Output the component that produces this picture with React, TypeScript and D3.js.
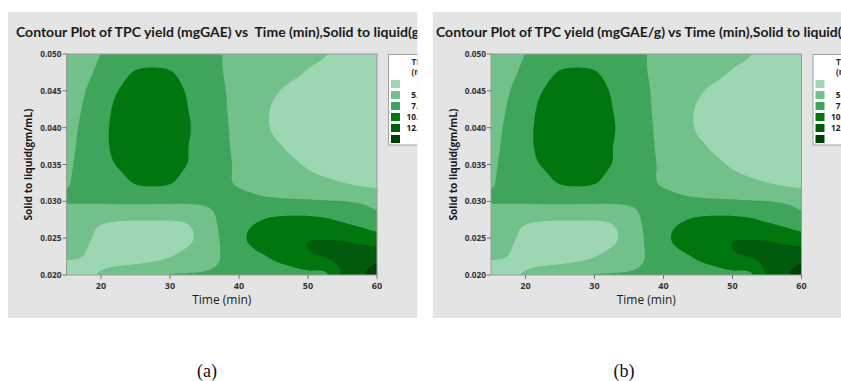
import React, { useMemo } from 'react';
import * as d3 from 'd3';

// ---------- data ----------
const timeValues = [15, 17.5, 20, 22.5, 25, 27.5, 30, 32.5, 35, 37.5, 40, 42.5, 45, 47.5, 50, 52.5, 55, 57.5, 60];
const ratioValues = [0.05, 0.0475, 0.045, 0.0425, 0.04, 0.0375, 0.035, 0.0325, 0.03, 0.0275, 0.025, 0.0225, 0.02];

// TPC yield estimated on the grid (rows: ratio top->bottom, columns: time)
const yieldAt0500 = [6.3, 6.9, 7.55, 8.3, 8.8, 9.0, 8.95, 8.6, 8.1, 7.5, 6.9, 6.5, 6.1, 5.8, 5.4, 5.03, 4.6, 4.3, 4.0];
const yieldAt0475 = [6.3, 7.0, 8.05, 9.2, 10.2, 10.4, 10.15, 9.2, 8.45, 7.54, 6.99, 6.46, 5.92, 5.39, 4.85, 4.5, 4.2, 4.0, 3.8];
const yieldAt0450 = [6.3, 7.4, 8.8, 10.05, 11.0, 11.2, 10.9, 9.8, 8.8, 7.7, 6.85, 6.04, 5.23, 4.6, 4.2, 3.9, 3.7, 3.55, 3.45];
const yieldAt0425 = [6.35, 7.75, 9.2, 10.5, 11.2, 11.5, 11.1, 10.05, 8.93, 7.81, 6.77, 5.77, 4.8, 4.3, 3.9, 3.7, 3.5, 3.4, 3.35];
const yieldAt0400 = [6.67, 8.06, 9.45, 10.6, 11.3, 11.6, 11.2, 10.2, 9.05, 7.91, 6.84, 5.8, 4.8, 4.3, 3.95, 3.75, 3.6, 3.5, 3.45];
const yieldAt0375 = [6.94, 8.2, 9.5, 10.5, 11.2, 11.4, 11.0, 10.05, 8.99, 7.94, 7.01, 6.17, 5.34, 4.7, 4.3, 4.0, 3.85, 3.75, 3.7];
const yieldAt0350 = [7.2, 8.24, 9.3, 10.15, 10.9, 11.1, 10.7, 9.95, 8.99, 7.98, 7.19, 6.59, 5.99, 5.39, 4.8, 4.4, 4.15, 4.0, 3.9];
const yieldAt0325 = [7.4, 8.1, 8.7, 9.2, 10.1, 10.3, 10.05, 9.1, 8.62, 7.88, 7.32, 6.95, 6.58, 6.2, 5.83, 5.46, 5.09, 4.7, 4.5];
const yieldAt0300 = [7.6, 7.65, 7.7, 7.8, 7.85, 7.85, 7.8, 7.75, 7.8, 8.0, 8.2, 8.0, 7.9, 7.85, 7.8, 7.7, 7.6, 7.3, 6.9];
const yieldAt0275 = [6.0, 5.7, 5.3, 5.1, 5.05, 5.05, 5.05, 5.3, 6.4, 8.0, 9.0, 9.8, 10.4, 10.6, 10.6, 10.3, 9.7, 9.0, 8.2];
const yieldAt0250 = [5.8, 5.3, 4.6, 4.2, 4.0, 4.0, 4.1, 4.6, 6.04, 7.78, 9.36, 10.8, 11.5, 12.0, 12.4, 12.4, 12.3, 11.8, 11.2];
const yieldAt0225 = [5.15, 4.95, 4.4, 4.1, 4.1, 4.4, 5.0, 5.87, 6.74, 7.6, 8.54, 9.47, 10.3, 11.1, 12.1, 12.55, 13.2, 13.8, 14.2];
const yieldAt0200 = [4.2, 4.6, 5.2, 6.0, 6.6, 7.2, 7.6, 7.65, 7.65, 7.8, 8.2, 8.5, 8.8, 9.1, 9.4, 9.6, 12.8, 14.6, 16.0];

const yieldGrid = [
  yieldAt0500, yieldAt0475, yieldAt0450, yieldAt0425, yieldAt0400, yieldAt0375, yieldAt0350,
  yieldAt0325, yieldAt0300, yieldAt0275, yieldAt0250, yieldAt0225, yieldAt0200,
];

const levelThresholds = [5, 7.5, 10, 12.5, 15];
const levelColors = ['#9dd6b3', '#73c18a', '#3fa55a', '#00760f', '#005c0c', '#003e08'];
const legendLow = ['', '5.0', '7.5', '10.0', '12.5', ''];
const legendSep = ['<', '–', '–', '–', '–', '>'];
const legendHigh = ['5.0', '7.5', '10.0', '12.5', '15.0', '15.0'];

const xTicks = [20, 30, 40, 50, 60];
const yTicks = [0.02, 0.025, 0.03, 0.035, 0.04, 0.045, 0.05];

const panelTitles = [
  'Contour Plot of TPC yield (mgGAE) vs  Time (min),Solid to liquid(gm/mL)',
  'Contour Plot of TPC yield (mgGAE/g) vs Time (min),Solid to liquid(gm/mL)',
];
const legendHeads = ['TPC yield', 'TPC yield'];
const legendUnits = ['(mgGAE)', '(mgGAE/g)'];
const captions = ['(a)', '(b)'];
const xTitle = 'Time (min)';
const yTitle = 'Solid to liquid(gm/mL)';

// ---------- layout ----------
const W = 841;
const H = 381;
const PANEL_OFFSETS = [0, 424.5];
const TITLE_X = [16, 11.5];
const CAPTION_X = [207, 624];
const plotLeft = 66.5;
const plotRight = 377;
const plotTop = 54;
const plotBottom = 275;
const FONT = "'Open Sans', 'Noto Sans', 'DejaVu Sans', sans-serif";
const TITLE_FONT = "Lato, 'Open Sans', sans-serif";

const xScale = d3.scaleLinear().domain([15, 60]).range([plotLeft, plotRight]);
const yScale = d3.scaleLinear().domain([0.02, 0.05]).range([plotBottom, plotTop]);

function catmull(p0: number, p1: number, p2: number, p3: number, t: number) {
  return 0.5 * (2 * p1 + (-p0 + p2) * t + (2 * p0 - 5 * p1 + 4 * p2 - p3) * t * t + (-p0 + 3 * p1 - 3 * p2 + p3) * t * t * t);
}

function useContourPaths() {
  return useMemo(() => {
    const rows = yieldGrid.length;
    const cols = yieldGrid[0].length;
    const sub = 20;
    const nx = (cols - 1) * sub + 1;
    const ny = (rows - 1) * sub + 1;
    const g = (r: number, c: number) =>
      yieldGrid[Math.max(0, Math.min(rows - 1, r))][Math.max(0, Math.min(cols - 1, c))];
    const values = new Array(nx * ny);
    for (let j = 0; j < ny; j++) {
      const v = j / sub;
      const r = Math.min(rows - 2, Math.floor(v));
      const fv = v - r;
      for (let i = 0; i < nx; i++) {
        const u = i / sub;
        const c = Math.min(cols - 2, Math.floor(u));
        const fu = u - c;
        const colVals = [];
        for (let k = -1; k <= 2; k++) {
          colVals.push(catmull(g(r - 1, c + k), g(r, c + k), g(r + 1, c + k), g(r + 2, c + k), fv));
        }
        values[j * nx + i] = catmull(colVals[0], colVals[1], colVals[2], colVals[3], fu);
      }
    }
    const t0 = timeValues[0];
    const t1 = timeValues[timeValues.length - 1];
    const s0 = ratioValues[0];
    const s1 = ratioValues[ratioValues.length - 1];
    const dt = (t1 - t0) / (nx - 1);
    const ds = (s0 - s1) / (ny - 1);
    const proj = d3.geoTransform({
      point: function (x: number, y: number) {
        (this as any).stream.point(xScale(t0 + x * dt), yScale(s0 - y * ds));
      },
    });
    const path = d3.geoPath(proj);
    const contours = d3.contours().size([nx, ny]).thresholds(levelThresholds)(values);
    return contours.map((c, k) => ({ d: path(c as any) || '', fill: levelColors[k + 1] }));
  }, []);
}

function Panel({ idx, paths }: { idx: number; paths: { d: string; fill: string }[] }) {
  const off = PANEL_OFFSETS[idx];
  return (
    <g transform={`translate(${off},0)`}>
      <defs>
        <clipPath id={`panel-clip-${idx}`}>
          <rect x={8} y={11.7} width={409.3} height={306.3} />
        </clipPath>
        <clipPath id={`plot-clip-${idx}`}>
          <rect x={plotLeft} y={plotTop} width={plotRight - plotLeft} height={plotBottom - plotTop} />
        </clipPath>
      </defs>
      <g clipPath={`url(#panel-clip-${idx})`}>
        <rect x={8} y={11.7} width={420} height={306.3} fill="#e4e4e4" />
        <text
          x={TITLE_X[idx]}
          y={36.5}
          fontFamily={TITLE_FONT}
          fontWeight={700}
          fontSize={14}
          fill="#1a1a1a"
          style={{ whiteSpace: 'pre' }}
        >
          {panelTitles[idx]}
        </text>
        <g clipPath={`url(#plot-clip-${idx})`}>
          <rect x={plotLeft} y={plotTop} width={plotRight - plotLeft} height={plotBottom - plotTop} fill={levelColors[0]} />
          {paths.map((p, k) => (
            <path key={k} d={p.d} fill={p.fill} stroke="none" />
          ))}
        </g>
        <rect
          x={plotLeft}
          y={plotTop}
          width={plotRight - plotLeft}
          height={plotBottom - plotTop}
          fill="none"
          stroke="#9a9a9a"
          strokeWidth={1}
        />
        {yTicks.map((t) => (
          <g key={`y${t}`}>
            <line x1={plotLeft - 4} x2={plotLeft} y1={yScale(t)} y2={yScale(t)} stroke="#777" />
            <text
              x={plotLeft - 5}
              y={yScale(t) + 3}
              textAnchor="end"
              fontFamily={FONT}
              fontWeight={700}
              fontSize={8.3}
              fill="#333"
            >
              {t.toFixed(3)}
            </text>
          </g>
        ))}
        {xTicks.map((t) => (
          <g key={`x${t}`}>
            <line x1={xScale(t)} x2={xScale(t)} y1={plotBottom} y2={plotBottom + 4} stroke="#777" />
            <text x={xScale(t)} y={plotBottom + 14} textAnchor="middle" fontFamily={FONT} fontWeight={700} fontSize={9} fill="#333">
              {t}
            </text>
          </g>
        ))}
        <text
          x={(plotLeft + plotRight) / 2}
          y={303.5}
          textAnchor="middle"
          fontFamily={FONT}
          fontWeight={500}
          fontSize={12}
          fill="#1a1a1a"
        >
          {xTitle}
        </text>
        <text
          transform={`translate(32,${(plotTop + plotBottom) / 2}) rotate(-90)`}
          textAnchor="middle"
          fontFamily={FONT}
          fontWeight={700}
          fontSize={10.2}
          fill="#1a1a1a"
        >
          {yTitle}
        </text>
        {/* legend */}
        <rect x={388.5} y={54.5} width={80} height={90.5} fill="#ffffff" stroke="#a0a0a0" />
        <text x={411.5} y={64.5} fontFamily={FONT} fontWeight={700} fontSize={8.3} fill="#333">
          {legendHeads[idx]}
        </text>
        <text x={411.5} y={74.5} fontFamily={FONT} fontWeight={700} fontSize={8.3} fill="#333">
          {legendUnits[idx]}
        </text>
        {levelColors.map((c, k) => (
          <g key={`lg${k}`}>
            <rect x={391} y={80 + k * 11} width={9} height={8} fill={c} />
            <text x={423} y={87 + k * 11} textAnchor="end" fontFamily={FONT} fontWeight={700} fontSize={8.3} fill="#222">
              {legendLow[k]}
            </text>
            <text x={427} y={87 + k * 11} fontFamily={FONT} fontWeight={700} fontSize={8.3} fill="#222">
              {legendSep[k]}
            </text>
            <text x={452} y={87 + k * 11} textAnchor="end" fontFamily={FONT} fontWeight={700} fontSize={8.3} fill="#222">
              {legendHigh[k]}
            </text>
          </g>
        ))}
      </g>
    </g>
  );
}

export default function App() {
  const paths = useContourPaths();
  return (
    <svg
      width={W}
      height={H}
      viewBox={`0 0 ${W} ${H}`}
      style={{ position: 'absolute', left: 0, top: 0, background: '#ffffff' }}
    >
      <rect x={0} y={0} width={W} height={H} fill="#ffffff" />
      {[0, 1].map((i) => (
        <Panel key={i} idx={i} paths={paths} />
      ))}
      {captions.map((c, i) => (
        <text
          key={c}
          x={CAPTION_X[i]}
          y={377}
          textAnchor="middle"
          fontFamily="'Liberation Serif', 'Times New Roman', serif"
          fontSize={18}
          fill="#111"
        >
          {c}
        </text>
      ))}
    </svg>
  );
}
